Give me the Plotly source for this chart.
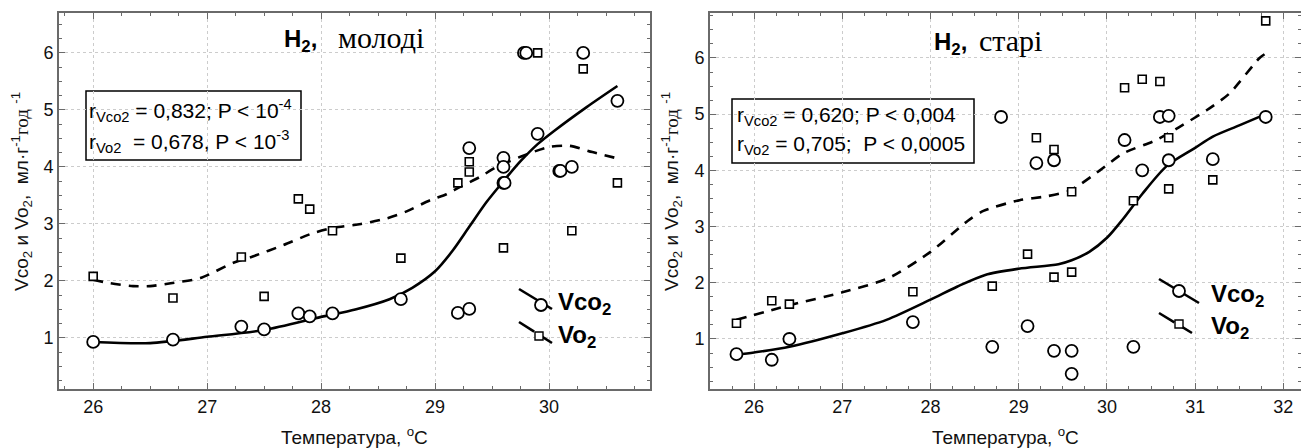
import plotly.graph_objects as go

# ---------------- data: left panel (молоді) ----------------
young_vco2_t = [26.0, 26.7, 27.3, 27.5, 27.8, 27.9, 28.1, 28.7, 29.2, 29.3, 29.3, 29.6, 29.6, 29.6, 29.61,
                29.78, 29.8, 29.9, 30.09, 30.1, 30.2, 30.3, 30.6]
young_vco2 = [0.93, 0.97, 1.2, 1.15, 1.43, 1.38, 1.43, 1.68, 1.44, 1.51, 4.33, 4.16, 4.0, 3.72, 3.72,
              6.0, 6.0, 4.58, 3.93, 3.93, 4.0, 6.0, 5.16]
young_vo2_t = [26.0, 26.7, 27.3, 27.5, 27.8, 27.9, 28.1, 28.7, 29.2, 29.3, 29.3, 29.6, 29.9, 30.2, 30.3, 30.6]
young_vo2 = [2.08, 1.7, 2.42, 1.73, 3.44, 3.26, 2.88, 2.4, 3.72, 3.91, 4.09, 2.58, 6.0, 2.88, 5.72, 3.72]

young_fit_vco2_t = [26.0, 26.5, 27.0, 27.5, 28.0, 28.3, 28.6, 28.8, 29.0, 29.15, 29.3, 29.45, 29.6,
                    29.75, 29.9, 30.05, 30.33, 30.6]
young_fit_vco2 = [0.93, 0.91, 1.02, 1.14, 1.37, 1.5, 1.68, 1.88, 2.17, 2.52, 2.95, 3.38, 3.75,
                  4.1, 4.4, 4.64, 5.05, 5.42]
young_fit_vo2_t = [26.0, 26.15, 26.35, 26.5, 26.68, 26.94, 27.23, 27.4, 27.67, 27.93, 28.1, 28.35, 28.58,
                   28.75, 28.96, 29.1, 29.22, 29.39, 29.54, 29.75, 30.0, 30.18, 30.38, 30.6]
young_fit_vo2 = [2.02, 1.96, 1.91, 1.91, 1.96, 2.05, 2.32, 2.43, 2.63, 2.84, 2.93, 3.0, 3.1,
                 3.22, 3.42, 3.52, 3.65, 3.82, 4.0, 4.18, 4.35, 4.37, 4.26, 4.15]

# ---------------- data: right panel (старі) ----------------
old_vco2_t = [25.8, 26.2, 26.4, 27.8, 28.7, 28.8, 29.1, 29.2, 29.4, 29.4, 29.6, 29.6, 30.2, 30.3,
              30.4, 30.6, 30.7, 30.7, 31.2, 31.8]
old_vco2 = [0.73, 0.63, 1.0, 1.3, 0.86, 4.95, 1.23, 4.13, 4.18, 0.79, 0.79, 0.38, 4.54, 0.86,
            4.0, 4.95, 4.97, 4.18, 4.2, 4.95]
old_vo2_t = [25.8, 26.2, 26.4, 27.8, 28.7, 29.1, 29.2, 29.4, 29.4, 29.6, 29.6, 30.2, 30.3, 30.4,
             30.6, 30.7, 30.7, 31.2, 31.8]
old_vo2 = [1.28, 1.68, 1.62, 1.84, 1.94, 2.51, 4.58, 4.37, 2.1, 2.19, 3.62, 5.47, 3.46, 5.62,
           5.58, 4.58, 3.67, 3.83, 6.66]

old_fit_vco2_t = [25.8, 26.0, 26.4, 27.0, 27.5, 28.0, 28.3, 28.62, 29.0, 29.45, 29.6, 29.8, 30.0,
                  30.18, 30.4, 30.68, 31.0, 31.2, 31.5, 31.8]
old_fit_vco2 = [0.72, 0.76, 0.86, 1.1, 1.34, 1.7, 1.93, 2.14, 2.25, 2.33, 2.4, 2.55, 2.8,
                3.13, 3.58, 4.08, 4.4, 4.6, 4.8, 5.0]
old_fit_vo2_t = [25.8, 26.4, 27.0, 27.52, 28.0, 28.42, 28.6, 29.01, 29.32, 29.58, 29.92, 30.18,
                 30.56, 30.82, 31.13, 31.39, 31.73, 31.8]
old_fit_vo2 = [1.34, 1.6, 1.83, 2.08, 2.55, 3.1, 3.28, 3.47, 3.54, 3.64, 4.0, 4.3,
               4.54, 4.77, 5.07, 5.37, 6.0, 6.08]

x_ticks_left = [26, 27, 28, 29, 30]
x_ticks_right = [26, 27, 28, 29, 30, 31, 32]
y_ticks = [1, 2, 3, 4, 5, 6]

# page body has an 8px margin: the figure is sized to fill the rest of the window
OFF = 8
W, H = 1309 - OFF, 448 - OFF
SANS = "Liberation Sans, Arial, sans-serif"
SERIF = "Liberation Serif, Times New Roman, serif"
AXC = "#6a6a6a"

def px(x):
    return (x - OFF) / W

def py(y):
    return 1 - (y - OFF) / H

fig = go.Figure()

line_solid = dict(color="black", width=2.6, shape="spline", smoothing=0.8)
line_dash = dict(color="black", width=2.6, shape="spline", smoothing=0.7, dash="10px,8px")
circ_fill = dict(symbol="circle", size=12, color="white", line=dict(width=1.8, color="black"))
sq_fill = dict(symbol="square", size=8, color="white", line=dict(width=1.6, color="black"))

for xa, ya, ft1, fv1, ft2, fv2, t1, v1, t2, v2 in [
    ("x", "y", young_fit_vco2_t, young_fit_vco2, young_fit_vo2_t, young_fit_vo2,
     young_vco2_t, young_vco2, young_vo2_t, young_vo2),
    ("x2", "y2", old_fit_vco2_t, old_fit_vco2, old_fit_vo2_t, old_fit_vo2,
     old_vco2_t, old_vco2, old_vo2_t, old_vo2),
]:
    fig.add_trace(go.Scatter(x=ft2, y=fv2, mode="lines", line=line_dash, xaxis=xa, yaxis=ya,
                             showlegend=False, hoverinfo="skip"))
    fig.add_trace(go.Scatter(x=ft1, y=fv1, mode="lines", line=line_solid, xaxis=xa, yaxis=ya,
                             showlegend=False, hoverinfo="skip"))
    fig.add_trace(go.Scatter(x=t2, y=v2, mode="markers", marker=sq_fill, xaxis=xa, yaxis=ya,
                             showlegend=False, name="Vo2"))
    fig.add_trace(go.Scatter(x=t1, y=v1, mode="markers", marker=circ_fill, xaxis=xa, yaxis=ya,
                             showlegend=False, name="Vco2"))

common = dict(
    showline=True, linecolor=AXC, linewidth=2, mirror="ticks",
    ticks="inside", ticklen=6, tickcolor=AXC, tickwidth=1,
    showgrid=True, gridcolor="#cccccc", griddash="dot", gridwidth=1,
    zeroline=False,
    tickfont=dict(family=SANS, size=18, color="#111111"),
    minor=dict(dtick=0.25, ticks="inside", ticklen=3, tickcolor=AXC, showgrid=False),
)

ydom = [py(389), py(13)]
fig.update_layout(
    width=W, height=H,
    margin=dict(l=0, r=0, t=0, b=0),
    paper_bgcolor="white", plot_bgcolor="white",
    showlegend=False,
    xaxis=dict(domain=[px(59), px(650)], range=[25.7, 30.886], tickvals=x_ticks_left,
               anchor="y", **common),
    yaxis=dict(domain=ydom, range=[0.105, 6.70], tickvals=y_ticks, anchor="x", **common),
    xaxis2=dict(domain=[px(710), px(1301)], range=[25.5, 32.2], tickvals=x_ticks_right,
                anchor="y2", **common),
    yaxis2=dict(domain=ydom, range=[0.11, 6.80], tickvals=y_ticks, anchor="x2", **common),
)

ann = []
xt = "Температура, <sup>o</sup>C"
for xc in (354, 1005):
    ann.append(dict(text=xt, x=px(xc), y=py(436), xref="paper", yref="paper", showarrow=False,
                    xanchor="center", yanchor="middle", font=dict(family=SANS, size=19, color="#111")))
yt = ("Vco<sub>2</sub> и Vo<sub>2</sub>,  мл·г<sup>-1</sup>"
      "<span style='font-family:Liberation Serif'>год</span> <sup>-1</sup>")
for xc in (21, 671):
    ann.append(dict(text=yt, x=px(xc), y=py(192), xref="paper", yref="paper", showarrow=False,
                    textangle=-90, xanchor="center", yanchor="middle",
                    font=dict(family=SANS, size=19, color="#111")))

# panel titles
for xh, xw, word, yc in ((282, 336, "молоді", 38), (932, 977, "старі", 41)):
    ann.append(dict(text="<b>H<sub>2</sub>,</b>", x=px(xh), y=py(yc + 3), xref="paper", yref="paper",
                    showarrow=False, xanchor="left", yanchor="middle",
                    font=dict(family=SANS, size=24, color="black")))
    ann.append(dict(text=word, x=px(xw), y=py(yc - 1), xref="paper", yref="paper",
                    showarrow=False, xanchor="left", yanchor="middle",
                    font=dict(family=SERIF, size=30, color="black")))

# statistics boxes
stats = [
    (87, 110, "r<sub>Vco2</sub> = 0,832; P &lt; 10<sup>-4</sup>"),
    (87, 141, "r<sub>Vo2</sub>&nbsp; = 0,678, P &lt; 10<sup>-3</sup>"),
    (735, 116, "r<sub>Vco2</sub> = 0,620; P &lt; 0,004"),
    (735, 145, "r<sub>Vo2</sub> = 0,705;&nbsp; P &lt; 0,0005"),
]
for xs, ys, t in stats:
    ann.append(dict(text=t, x=px(xs), y=py(ys), xref="paper", yref="paper", showarrow=False,
                    xanchor="left", yanchor="middle", font=dict(family=SANS, size=21, color="black")))

shapes = []
for x0, y0, x1, y1 in ((86, 91, 301, 160), (732, 99, 974, 163)):
    shapes.append(dict(type="rect", xref="paper", yref="paper", x0=px(x0), x1=px(x1),
                       y0=py(y1), y1=py(y0), line=dict(color="black", width=1.5), fillcolor="white",
                       layer="below"))

# in-plot legends (slanted line samples with a marker)
legends = [
    dict(c_line=((519, 289), (552, 309)), c_mark=(541, 305), c_text=(556, 300),
         o_line=((519, 322), (552, 343)), o_mark=(539, 336), o_text=(556, 333)),
    dict(c_line=((1159, 279), (1199, 303)), c_mark=(1179, 291), c_text=(1209, 292),
         o_line=((1159, 313), (1192, 333)), o_mark=(1179, 324), o_text=(1209, 324)),
]
for L in legends:
    (a, b), (c, d) = L["c_line"]
    shapes.append(dict(type="line", xref="paper", yref="paper", x0=px(a), y0=py(b), x1=px(c), y1=py(d),
                       line=dict(color="black", width=2.6)))
    (a, b), (c, d) = L["o_line"]
    shapes.append(dict(type="line", xref="paper", yref="paper", x0=px(a), y0=py(b), x1=px(c), y1=py(d),
                       line=dict(color="black", width=2.6, dash="18px,6px")))
    mx, my = L["c_mark"]
    shapes.append(dict(type="circle", xref="paper", yref="paper", xsizemode="pixel", ysizemode="pixel",
                       xanchor=px(mx), yanchor=py(my), x0=-6, x1=6, y0=-6, y1=6,
                       line=dict(color="black", width=1.8), fillcolor="white"))
    mx, my = L["o_mark"]
    shapes.append(dict(type="rect", xref="paper", yref="paper", xsizemode="pixel", ysizemode="pixel",
                       xanchor=px(mx), yanchor=py(my), x0=-4, x1=4, y0=-4, y1=4,
                       line=dict(color="black", width=1.4), fillcolor="white"))
    for key, t in (("c_text", "Vco<sub>2</sub>"), ("o_text", "Vo<sub>2</sub>")):
        tx, ty = L[key]
        ann.append(dict(text="<b>" + t + "</b>", x=px(tx), y=py(ty + 3), xref="paper", yref="paper",
                        showarrow=False, xanchor="left", yanchor="middle",
                        font=dict(family=SANS, size=24, color="black")))

fig.update_layout(annotations=ann, shapes=shapes)
fig.write_html("out.html")
